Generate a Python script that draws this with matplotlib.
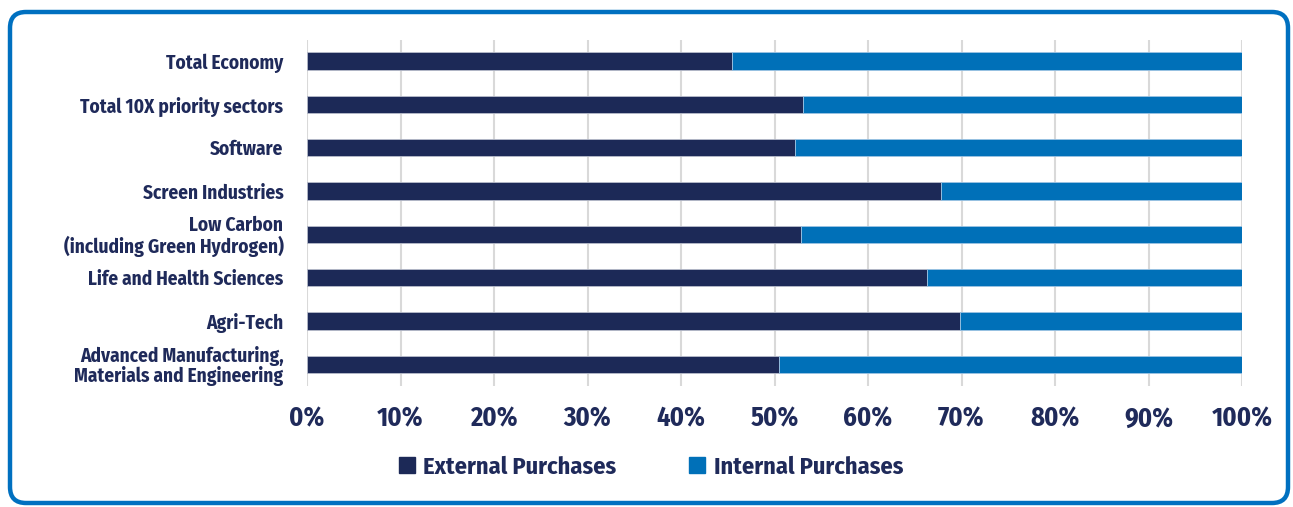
import matplotlib
matplotlib.use("Agg")
import matplotlib.pyplot as plt
from matplotlib.patches import FancyBboxPatch, Rectangle
import numpy as np

categories = [
    "Total Economy",
    "Total 10X priority sectors",
    "Software",
    "Screen Industries",
    "Low Carbon\n(including Green Hydrogen)",
    "Life and Health Sciences",
    "Agri-Tech",
    "Advanced Manufacturing,\nMaterials and Engineering",
]
external = [45.5, 53.0, 52.2, 67.8, 52.8, 66.3, 69.8, 50.5]
internal = [100 - v for v in external]
series_names = ["External Purchases", "Internal Purchases"]
xticks = [0, 10, 20, 30, 40, 50, 60, 70, 80, 90, 100]
xticklabels = [f"{t}%" for t in xticks]

NAVY = "#1C2957"
BLUE = "#0070B8"
TXT = "#1F2A5A"
FONT = ["Fira Sans Condensed", "DejaVu Sans"]
plt.rcParams["font.family"] = FONT

W, H = 1293, 507
fig = plt.figure(figsize=(W / 100, H / 100), dpi=100)

# pixel-space background axes for the frame
bg = fig.add_axes([0, 0, 1, 1])
bg.set_xlim(0, W)
bg.set_ylim(H, 0)
bg.axis("off")
bg.add_patch(FancyBboxPatch((10, 12), 1278, 491, boxstyle="round,pad=0,rounding_size=16",
                            fill=False, edgecolor="#0070C0", linewidth=3.2))

ax = fig.add_axes([307 / W, 1 - 386 / H, (1242 - 307) / W, (386 - 39.5) / H])

y = np.arange(len(categories))
ax.barh(y, external, height=0.4, color=NAVY, edgecolor="#B8BCCB", linewidth=0.6, zorder=3)
ax.barh(y, internal, left=external, height=0.4, color=BLUE, edgecolor="#9CC3E3", linewidth=0.6, zorder=3)

ax.set_ylim(len(categories) - 0.5, -0.5)
ax.set_xlim(0, 100)
ax.set_yticks(y)
ax.set_yticklabels(categories, fontsize=13.9, fontweight="bold", color=TXT, linespacing=1.0)
ax.set_xticks(xticks)
ax.set_xticklabels(xticklabels, fontsize=19, fontweight="bold", color=TXT)
ax.tick_params(axis="y", length=0, pad=17)
ax.tick_params(axis="x", length=0, pad=14)
ax.grid(axis="x", color="#D9D9D9", linewidth=1.5, zorder=0)
ax.set_axisbelow(True)
for s in ax.spines.values():
    s.set_visible(False)

handles = [Rectangle((0, 0), 1, 1, color=NAVY), Rectangle((0, 0), 1, 1, color=BLUE)]
fig.legend(handles, series_names, loc="center", bbox_to_anchor=(651 / W, 1 - 467 / H),
           ncol=2, frameon=False, handlelength=0.65, handleheight=0.65, handletextpad=0.35,
           columnspacing=3.0, prop={"family": FONT, "weight": "bold", "size": 17.5},
           labelcolor=TXT)

fig.savefig("out.png", dpi=100)
